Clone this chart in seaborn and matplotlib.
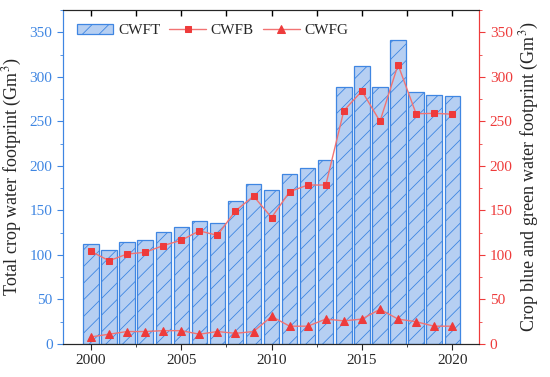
import numpy as np
import pandas as pd
import matplotlib
matplotlib.use("Agg")
import matplotlib.pyplot as plt
import seaborn as sns
from matplotlib.ticker import MultipleLocator

# Data
years = list(range(2000, 2021))
cwft = [112, 105, 115, 117, 126, 131, 138, 136, 161, 180, 173,
        191, 198, 207, 288, 312, 288, 341, 283, 280, 278]
cwfb = [104, 93.5, 101, 103, 110.5, 116.5, 127, 122, 149.5, 166, 142,
        171, 178.5, 178.5, 262, 284, 250, 313.5, 258.5, 259, 258]
cwfg = [8, 11, 14, 14, 15, 15, 11, 14, 12, 14, 31,
        20, 20, 28, 26, 28, 39, 28, 25, 20, 20]

df = pd.DataFrame({"Year": years, "CWFT": cwft, "CWFB": cwfb, "CWFG": cwfg})

sns.set_style("ticks")
plt.rcParams['font.family'] = ['Liberation Serif', 'DejaVu Serif']
plt.rcParams['hatch.linewidth'] = 0.6
plt.rcParams['mathtext.fontset'] = 'stix'

blue_edge = '#3f86e2'
blue_fill = '#b6cff2'
red = '#ee3b3b'
red_line = '#f27373'

fig = plt.figure(figsize=(5.5, 3.77), dpi=100)
ax = fig.add_axes([0.1145, 0.0875, 0.757, 0.886])

# bars (total)
sns.barplot(data=df, x="Year", y="CWFT", native_scale=True, width=0.85,
            color=blue_fill, saturation=1, edgecolor=blue_edge, linewidth=0.9,
            hatch='//', ax=ax, label='CWFT')

# lines (blue and green) on the right axis
ax2 = ax.twinx()
sns.lineplot(data=df, x="Year", y="CWFB", ax=ax2, color=red_line, linewidth=1.0,
             marker='s', markersize=5, markerfacecolor=red, markeredgecolor=red,
             label='CWFB')
sns.lineplot(data=df, x="Year", y="CWFG", ax=ax2, color=red_line, linewidth=1.0,
             marker='^', markersize=6, markerfacecolor=red, markeredgecolor=red,
             label='CWFG')

for a in (ax, ax2):
    a.set_ylim(0, 375)
    a.set_xlim(1998.45, 2021.5)
    a.yaxis.set_major_locator(MultipleLocator(50))
    a.yaxis.set_minor_locator(MultipleLocator(25))

ax.xaxis.set_major_locator(MultipleLocator(5))
ax.xaxis.set_minor_locator(MultipleLocator(2.5))
ax.tick_params(axis='x', which='major', direction='out', length=4, labelsize=11)
ax.tick_params(axis='x', which='minor', direction='out', length=2.5)
ax.tick_params(axis='y', which='major', colors=blue_edge, length=4, labelsize=11,
               labelcolor=blue_edge)
ax.tick_params(axis='y', which='minor', colors=blue_edge, length=2.5)
ax2.tick_params(axis='y', which='major', colors=red, length=4, labelsize=11,
                labelcolor=red)
ax2.tick_params(axis='y', which='minor', colors=red, length=2.5)

# inward ticks on the top edge, drawn by the twin's (shared) x axis
ax2.xaxis.set_visible(True)
ax2.tick_params(axis='x', which='both', bottom=False, labelbottom=False,
                top=True, labeltop=False, direction='in', length=4,
                color='black', width=1.0)

ax.set_xlabel('')
ax.set_ylabel('Total crop water footprint (Gm$^3$)', fontsize=13)
ax2.set_xlabel('')
ax2.set_ylabel('Crop blue and green water footprint (Gm$^3$)', fontsize=13)

ax.spines['left'].set_color(blue_edge)
ax2.spines['left'].set_color(blue_edge)
ax2.spines['right'].set_color(red)
ax.spines['right'].set_color(red)

# combined legend
h1, l1 = ax.get_legend_handles_labels()
h2, l2 = ax2.get_legend_handles_labels()
if ax2.get_legend() is not None:
    ax2.get_legend().remove()
if ax.get_legend() is not None:
    ax.get_legend().remove()
ax2.legend(h1 + h2, l1 + l2, loc='upper left', ncol=3, frameon=False,
           fontsize=11, handlelength=2.4, columnspacing=0.6, handletextpad=0.3,
           bbox_to_anchor=(0.0, 1.0))

fig.savefig('out.png', dpi=100)
